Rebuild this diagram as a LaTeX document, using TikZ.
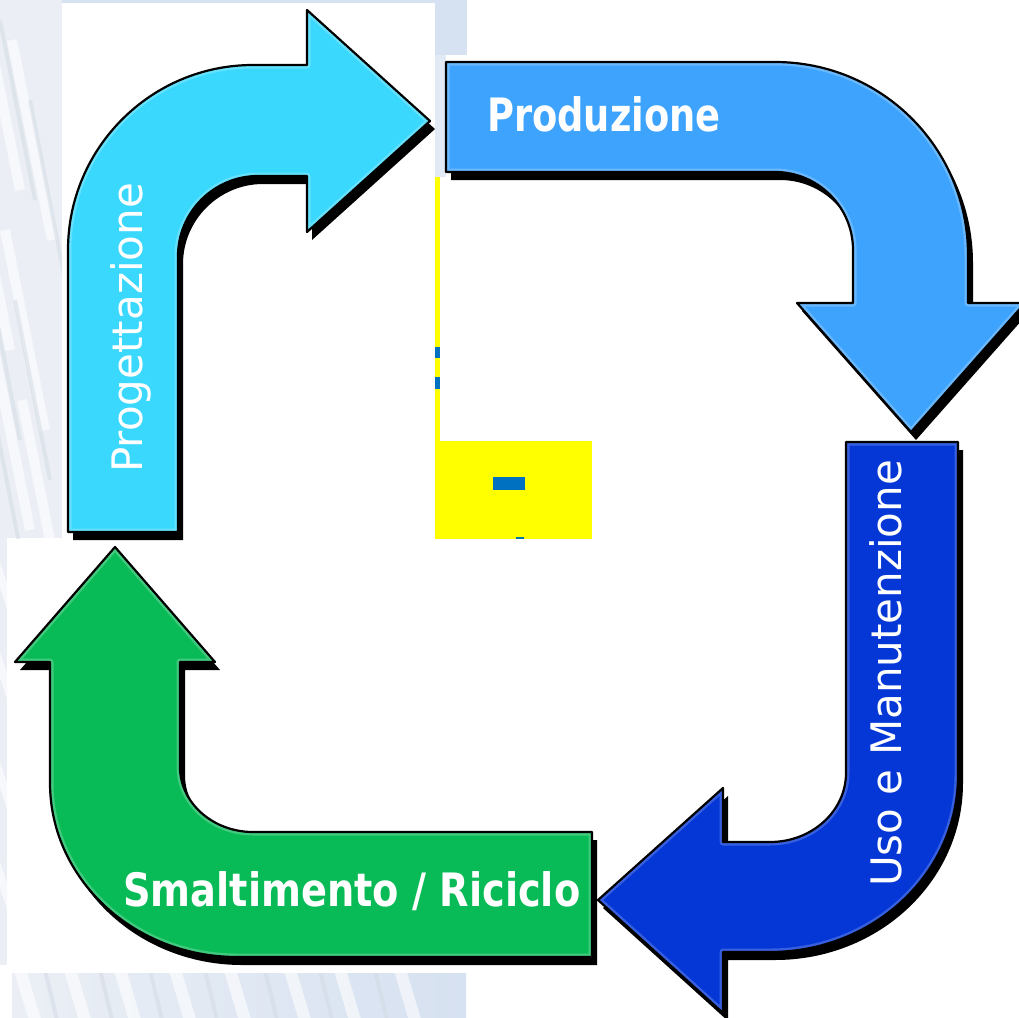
\documentclass[tikz,border=0pt]{standalone}
\usepackage{fontspec}
\setmainfont{DejaVu Sans}
\definecolor{cyanA}{HTML}{3AD8FD}
\definecolor{blueB}{HTML}{3EA3FD}
\definecolor{navyC}{HTML}{0537D6}
\definecolor{greenD}{HTML}{09BB57}
\definecolor{bgblue}{HTML}{D6E1F1}
\definecolor{texbase}{HTML}{EBEFF5}
\definecolor{texgray}{HTML}{D3DAE4}
\definecolor{markblue}{HTML}{0070C0}
\definecolor{markyellow}{HTML}{FFFF00}
\newcommand{\bentarrow}[3]{%
  \fill[black, shift={(5,8)}, line join=round] #1;
  \fill[#2] #1;
  \begin{scope}\clip #1; \draw[#3, line width=7, opacity=0.5, line join=round] #1; \end{scope}
  \draw[black, line width=2.2, line join=round] #1;
}
\begin{document}
\begin{tikzpicture}[x=1pt,y=-1pt,
  lbl/.style={text=white, inner sep=0pt, font=\fontsize{42}{50}\selectfont},
  blbl/.style={text=white, inner sep=0pt, font=\fontsize{46}{54}\selectfont\bfseries}]
\useasboundingbox (0,0) rectangle (1019,1017);
\fill[white] (0,0) rectangle (1019,1017);
% ---- background fragments ----
\fill[bgblue] (62,0) rectangle (467,3);
\fill[bgblue] (435,0) rectangle (467,55);
\fill[bgblue!70!white] (435,55) rectangle (446,177);
\begin{scope}
  \clip (0,0) rectangle (62,538);
  \fill[texbase] (0,0) rectangle (62,538);
  \foreach \a/\b in {-20/-10, 12/40, -30/150, 5/230, -10/330, 22/400, -25/450}
    {\draw[white, line width=10, opacity=.6] (\a,\b) -- ++(40,200);}
  \foreach \a/\b in {0/20, 30/100, -15/260, 15/300, -5/420}
    {\draw[texgray, line width=4, opacity=.5] (\a,\b) -- ++(35,180);}
\end{scope}
\begin{scope}
  \clip (0,538) rectangle (7,965);
  \fill[texbase] (0,538) rectangle (7,965);
  \foreach \b in {560, 650, 760, 860}
    {\draw[white, line width=8, opacity=.6] (-5,\b) -- ++(20,60);}
\end{scope}
\begin{scope}
  \clip (12,973) rectangle (466,1017);
  \shade[left color=texbase, right color=bgblue] (12,973) rectangle (466,1017);
  \foreach \a in {20, 70, 120, 175, 230, 290, 340, 400}
    {\draw[white, line width=12, opacity=.6] (\a,970) -- ++(15,50);}
  \foreach \a in {45, 100, 150, 205, 265, 320, 375}
    {\draw[texgray, line width=4, opacity=.5] (\a,970) -- ++(12,50);}
\end{scope}
% ---- centre yellow fragments ----
\fill[markyellow] (435,177) rectangle (440,441);
\fill[markblue] (435,347) rectangle (440,358);
\fill[markblue] (435,377) rectangle (440,389);
\fill[markyellow] (435,441) rectangle (592,539);
\fill[markblue] (493,477) rectangle (525,490);
\fill[markblue!60!teal] (516,537) rectangle (524,539);
% ---- arrows ----
\bentarrow{(68,532) -- (68,250) .. controls (68,148) and (151,65) .. (253,65) -- (307,65) -- (307,10) -- (430,121) -- (307,232) -- (307,176) -- (258,176) .. controls (214,176) and (178,212) .. (178,256) -- (178,532) -- cycle}{cyanA}{cyanA!55!white}
\bentarrow{(446,62) -- (775,62) .. controls (882,62) and (968,148) .. (968,255) -- (968,303) -- (1025,303) -- (911,432) -- (797,303) -- (853,303) -- (853,250) .. controls (853,207) and (818,172) .. (775,172) -- (446,172) -- cycle}{blueB}{blueB!55!white}
\bentarrow{(846,442) -- (958,442) -- (958,775) .. controls (958,873) and (874,952) .. (770,952) -- (723,952) -- (723,1013) -- (598,900) -- (723,788) -- (723,842) -- (770,842) .. controls (812,842) and (846,811) .. (846,773) -- cycle}{navyC}{navyC!60!white}
\bentarrow{(592,832) -- (253,832) .. controls (213,832) and (180,803) .. (180,767) -- (180,662) -- (215,662) -- (115,547) -- (15,662) -- (50,662) -- (50,783) .. controls (50,879) and (134,957) .. (237,957) -- (592,957) -- cycle}{greenD}{greenD!55!white}
% ---- labels ----
\node[lbl, rotate=90, anchor=base west] (prog) at (142,473) {Progettazione};
\node[blbl, anchor=base west] (prod) at (487,131) {\scalebox{0.8}[1]{Produzione}};
\node[lbl, rotate=90, anchor=base west] (uso) at (901,887) {Uso e Manutenzione};
\node[blbl, anchor=base west] (smal) at (123,906) {\scalebox{0.833}[1]{Smaltimento / Riciclo}};
\end{tikzpicture}
\end{document}
